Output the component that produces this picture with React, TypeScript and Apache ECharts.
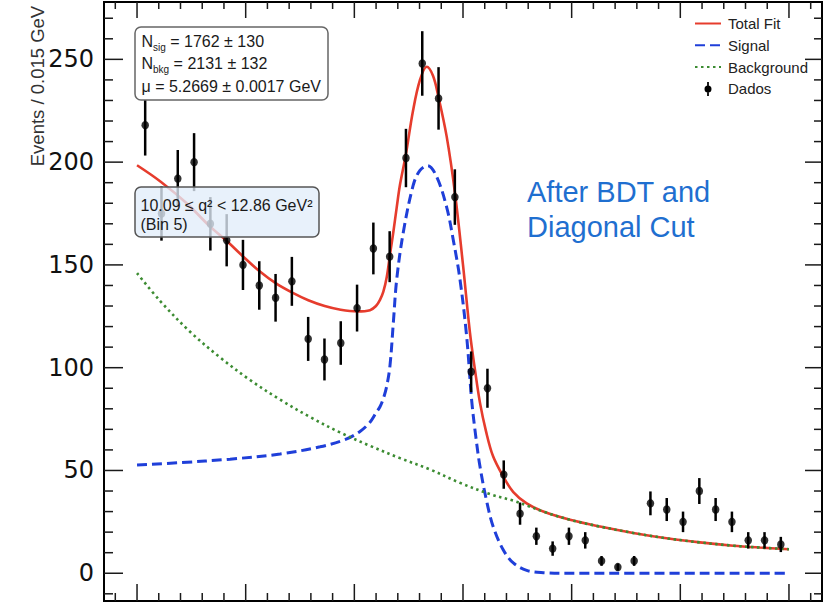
import React, { useEffect, useRef } from 'react';
import * as echarts from 'echarts';

// ---- data ----
const binCenters = [
  5.0075, 5.0225, 5.0375, 5.0525, 5.0675, 5.0825, 5.0975, 5.1125, 5.1275, 5.1425,
  5.1575, 5.1725, 5.1875, 5.2025, 5.2175, 5.2325, 5.2475, 5.2625, 5.2775, 5.2925,
  5.3075, 5.3225, 5.3375, 5.3525, 5.3675, 5.3825, 5.3975, 5.4125, 5.4275, 5.4425,
  5.4575, 5.4725, 5.4875, 5.5025, 5.5175, 5.5325, 5.5475, 5.5625, 5.5775, 5.5925,
];
const counts = [
  218, 175, 192, 200, 170, 162, 150, 140, 134, 142,
  114, 104, 112, 129, 158, 154, 202, 248, 231, 183,
  98, 90, 48, 29, 18, 12, 18, 16, 6, 3,
  6, 34, 31, 25, 40, 31, 25, 16, 16, 14,
];
const errors = [
  14.8, 13.2, 13.9, 14.1, 13.0, 12.7, 12.2, 11.8, 11.6, 11.9,
  10.7, 10.2, 10.6, 11.4, 12.6, 12.4, 14.2, 15.7, 15.2, 13.5,
  9.9, 9.5, 6.9, 5.4, 4.2, 3.5, 4.2, 4.0, 2.4, 1.7,
  2.4, 5.8, 5.6, 5.0, 6.3, 5.6, 5.0, 4.0, 4.0, 3.7,
];

const totalFit = [
  [5.0, 198.5], [5.0218, 190.5], [5.0457, 180], [5.0665, 169], [5.0819, 162],
  [5.0978, 154], [5.1125, 147], [5.1279, 141], [5.1429, 136.5], [5.1576, 132.8],
  [5.1727, 130], [5.1874, 128.2], [5.2027, 127.4], [5.2144, 128], [5.2199, 130],
  [5.2236, 133], [5.2267, 137], [5.2298, 144], [5.2328, 155], [5.2359, 166],
  [5.239, 178], [5.242, 189], [5.2475, 204], [5.254, 225], [5.2604, 240],
  [5.2666, 246.4], [5.2724, 242], [5.2773, 232], [5.285, 212.4], [5.2926, 185],
  [5.3, 150], [5.3064, 117], [5.311, 99], [5.3156, 83], [5.3212, 69],
  [5.3276, 57], [5.3371, 47], [5.3463, 39.5], [5.3586, 34], [5.3739, 30],
  [5.3985, 26], [5.4261, 22.7], [5.4567, 19.6], [5.4874, 17], [5.518, 15],
  [5.5487, 13.4], [5.5733, 12.5], [5.6, 11.7],
];
const signal = [
  [5.0, 52.7], [5.0396, 53.8], [5.0856, 55.5], [5.1316, 58], [5.1684, 61.5],
  [5.1914, 65], [5.2052, 69], [5.2144, 73.5], [5.2199, 78], [5.2236, 81],
  [5.2267, 85], [5.2298, 91], [5.2328, 101], [5.2359, 122], [5.239, 143],
  [5.2451, 166], [5.2543, 189], [5.2604, 196], [5.2675, 198.3], [5.2757, 193],
  [5.285, 178], [5.2911, 162], [5.2972, 143], [5.3034, 115], [5.308, 84],
  [5.3119, 66], [5.3156, 52], [5.3218, 35], [5.3279, 22.5], [5.3371, 11.3],
  [5.3463, 5], [5.3586, 1.4], [5.3739, 0.3], [5.3985, 0], [5.6, 0],
];
const background = [
  [5.0, 146], [5.0212, 132.5], [5.0488, 117.5], [5.0764, 105], [5.104, 94],
  [5.1316, 84.5], [5.1592, 76], [5.1868, 68.5], [5.2144, 62], [5.242, 56],
  [5.2696, 50.5], [5.2972, 44], [5.3248, 38.5], [5.3463, 35.3], [5.3586, 33],
  [5.3739, 30], [5.3985, 26], [5.4261, 22.7], [5.4567, 19.6], [5.4874, 17],
  [5.518, 15], [5.5487, 13.4], [5.5733, 12.5], [5.6, 11.7],
];

const xMajorTicks = [5.0, 5.1, 5.2, 5.3, 5.4, 5.5, 5.6];
const xMinorTicks = [
  4.98, 5.02, 5.04, 5.06, 5.08, 5.12, 5.14, 5.16, 5.18, 5.22, 5.24, 5.26, 5.28,
  5.32, 5.34, 5.36, 5.38, 5.42, 5.44, 5.46, 5.48, 5.52, 5.54, 5.56, 5.58, 5.62,
];
const yMajorTicks = [0, 50, 100, 150, 200, 250];
const yMinorTicks = [
  -10, 10, 20, 30, 40, 60, 70, 80, 90, 110, 120, 130, 140, 160, 170, 180, 190,
  210, 220, 230, 240, 260, 270,
];

const X_MIN = 4.9696;
const X_MAX = 5.6304;
const Y_MIN = -13.5;
const Y_MAX = 277.9;

const RED = '#e63c2d';
const BLUE = '#1f3fd9';
const GREEN = '#3c8c32';
const SANS = 'Liberation Sans, Arial, sans-serif';

type Side = 'bottom' | 'top' | 'left' | 'right';

// Frame ticks, drawn through the axes' own scales
function tickSeries(values: number[], side: Side, len: number) {
  const data = values.map((v) =>
    side === 'bottom' ? [v, Y_MIN] : side === 'top' ? [v, Y_MAX] : side === 'left' ? [X_MIN, v] : [X_MAX, v]
  );
  return {
    type: 'custom',
    silent: true,
    z: 1,
    data,
    encode: { x: 0, y: 1 },
    renderItem: (_params: any, api: any) => {
      const p = api.coord([api.value(0), api.value(1)]);
      let x2 = p[0];
      let y2 = p[1];
      if (side === 'bottom') y2 = p[1] - len;
      else if (side === 'top') y2 = p[1] + len;
      else if (side === 'left') x2 = p[0] + len;
      else x2 = p[0] - len;
      return {
        type: 'line',
        shape: { x1: p[0], y1: p[1], x2, y2 },
        style: { stroke: '#1a1a1a', lineWidth: 1.5 },
      };
    },
  };
}

export default function App() {
  const ref = useRef<HTMLDivElement>(null);

  useEffect(() => {
    if (!ref.current) return;
    const chart = echarts.init(ref.current, null, { renderer: 'svg' });

    const points = binCenters.map((x, i) => [x, counts[i]]);
    const bars = binCenters.map((x, i) => [x, counts[i], errors[i]]);

    const option: any = {
      animation: false,
      backgroundColor: '#fff',
      grid: {
        left: 104,
        right: 5,
        top: 2,
        bottom: 3,
        show: true,
        borderColor: '#000',
        borderWidth: 2,
        backgroundColor: 'transparent',
      },
      xAxis: {
        type: 'value',
        min: X_MIN,
        max: X_MAX,
        axisLine: { show: false, onZero: false },
        axisTick: { show: false },
        axisLabel: { show: false },
        splitLine: { show: false },
      },
      yAxis: {
        type: 'value',
        min: Y_MIN,
        max: Y_MAX,
        axisLine: { show: false, onZero: false },
        axisTick: { show: false },
        splitLine: { show: false },
        axisLabel: {
          show: true,
          customValues: yMajorTicks,
          fontFamily: 'DejaVu Sans',
          fontSize: 24,
          color: '#111',
          margin: 10,
        },
      },
      legend: {
        orient: 'vertical',
        left: 689,
        top: 11,
        itemWidth: 26,
        itemHeight: 14,
        itemGap: 6.8,
        selectedMode: false,
        textStyle: {
          fontFamily: SANS,
          fontSize: 15,
          color: '#222',
          lineHeight: 14,
          padding: [0, 0, 0, 2],
        },
        data: [
          { name: 'Total Fit' },
          { name: 'Signal' },
          { name: 'Background' },
          {
            name: 'Dados',
            icon: 'path://M3,0 L5,0 L5,16 L3,16 Z M4,4 A4,4 0 1 1 4,12 A4,4 0 1 1 4,4 Z',
            itemStyle: { color: '#000', opacity: 1 },
          },
        ],
      },
      series: [
        tickSeries(xMajorTicks, 'bottom', 17),
        tickSeries(xMinorTicks, 'bottom', 8),
        tickSeries(xMajorTicks, 'top', 16),
        tickSeries(xMinorTicks, 'top', 7),
        tickSeries(yMajorTicks, 'left', 19),
        tickSeries(yMinorTicks, 'left', 9),
        tickSeries(yMajorTicks, 'right', 17),
        tickSeries(yMinorTicks, 'right', 8),
        {
          name: 'Total Fit',
          type: 'line',
          data: totalFit,
          smooth: 0.35,
          symbol: 'none',
          z: 2,
          lineStyle: { color: RED, width: 2.6 },
          itemStyle: { color: RED, opacity: 0 },
        },
        {
          name: 'Signal',
          type: 'line',
          data: signal,
          smooth: 0.35,
          symbol: 'none',
          z: 3,
          lineStyle: { color: BLUE, width: 3, type: [10, 5] },
          itemStyle: { color: BLUE, opacity: 0 },
        },
        {
          name: 'Background',
          type: 'line',
          data: background,
          smooth: 0.35,
          symbol: 'none',
          z: 4,
          lineStyle: { color: GREEN, width: 2.6, type: [2.5, 3.5] },
          itemStyle: { color: GREEN, opacity: 0 },
        },
        {
          name: 'errbars',
          type: 'custom',
          data: bars,
          z: 5,
          encode: { x: 0, y: 1 },
          renderItem: (_params: any, api: any) => {
            const x = api.value(0);
            const y = api.value(1);
            const e = api.value(2);
            const p1 = api.coord([x, y - e]);
            const p2 = api.coord([x, y + e]);
            return {
              type: 'line',
              shape: { x1: p1[0], y1: p1[1], x2: p2[0], y2: p2[1] },
              style: { stroke: '#000', lineWidth: 2.5 },
            };
          },
        },
        {
          name: 'Dados',
          type: 'scatter',
          data: points,
          symbol: 'circle',
          symbolSize: [7.5, 8.5],
          z: 6,
          itemStyle: { color: '#000' },
        },
      ],
      graphic: [
        {
          type: 'text',
          x: 37,
          y: 86,
          rotation: Math.PI / 2,
          z: 100,
          style: {
            text: 'Events / 0.015 GeV',
            font: `18.5px ${SANS}`,
            fill: '#333',
            textAlign: 'center',
            textVerticalAlign: 'middle',
          },
        },
        {
          type: 'rect',
          z: 100,
          shape: { x: 135, y: 27, width: 193, height: 73, r: 6 },
          style: { fill: '#fff', stroke: '#666', lineWidth: 1.5 },
        },
        {
          type: 'text',
          z: 101,
          x: 141.5,
          y: 41.2,
          style: {
            text: '{n|N}{s|sig}{n| = 1762 ± 130}',
            textVerticalAlign: 'middle',
            rich: {
              n: { fontFamily: SANS, fontSize: 16, lineHeight: 22, fill: '#1a1a1a', color: '#1a1a1a' },
              s: { fontFamily: SANS, fontSize: 10, lineHeight: 22, verticalAlign: 'bottom', fill: '#1a1a1a', color: '#1a1a1a' },
            },
          },
        },
        {
          type: 'text',
          z: 101,
          x: 141.5,
          y: 63.5,
          style: {
            text: '{n|N}{s|bkg}{n| = 2131 ± 132}',
            textVerticalAlign: 'middle',
            rich: {
              n: { fontFamily: SANS, fontSize: 16, lineHeight: 22, fill: '#1a1a1a', color: '#1a1a1a' },
              s: { fontFamily: SANS, fontSize: 10, lineHeight: 22, verticalAlign: 'bottom', fill: '#1a1a1a', color: '#1a1a1a' },
            },
          },
        },
        {
          type: 'text',
          z: 101,
          x: 141.5,
          y: 86.2,
          style: {
            text: 'μ = 5.2669 ± 0.0017 GeV',
            font: `16px ${SANS}`,
            fill: '#1a1a1a',
            textVerticalAlign: 'middle',
          },
        },
        {
          type: 'rect',
          z: 100,
          shape: { x: 135, y: 187, width: 184, height: 50, r: 6 },
          style: { fill: 'rgba(226,237,250,0.78)', stroke: '#555', lineWidth: 1.5 },
        },
        {
          type: 'text',
          z: 101,
          x: 140.5,
          y: 205,
          style: {
            text: '10.09 ≤ q² < 12.86 GeV²',
            font: `16px ${SANS}`,
            fill: '#1a1a1a',
            textVerticalAlign: 'middle',
          },
        },
        {
          type: 'text',
          z: 101,
          x: 140.5,
          y: 224,
          style: {
            text: '(Bin 5)',
            font: `16px ${SANS}`,
            fill: '#1a1a1a',
            textVerticalAlign: 'middle',
          },
        },
        {
          type: 'text',
          z: 101,
          x: 527,
          y: 192,
          style: {
            text: 'After BDT and',
            font: `29px ${SANS}`,
            fill: '#1f6fd0',
            textVerticalAlign: 'middle',
          },
        },
        {
          type: 'text',
          z: 101,
          x: 527,
          y: 227,
          style: {
            text: 'Diagonal Cut',
            font: `29px ${SANS}`,
            fill: '#1f6fd0',
            textVerticalAlign: 'middle',
          },
        },
      ],
    };

    chart.setOption(option);
    return () => chart.dispose();
  }, []);

  return (
    <div
      ref={ref}
      style={{ position: 'absolute', left: 0, top: 0, width: 827, height: 604, background: '#fff' }}
    />
  );
}
